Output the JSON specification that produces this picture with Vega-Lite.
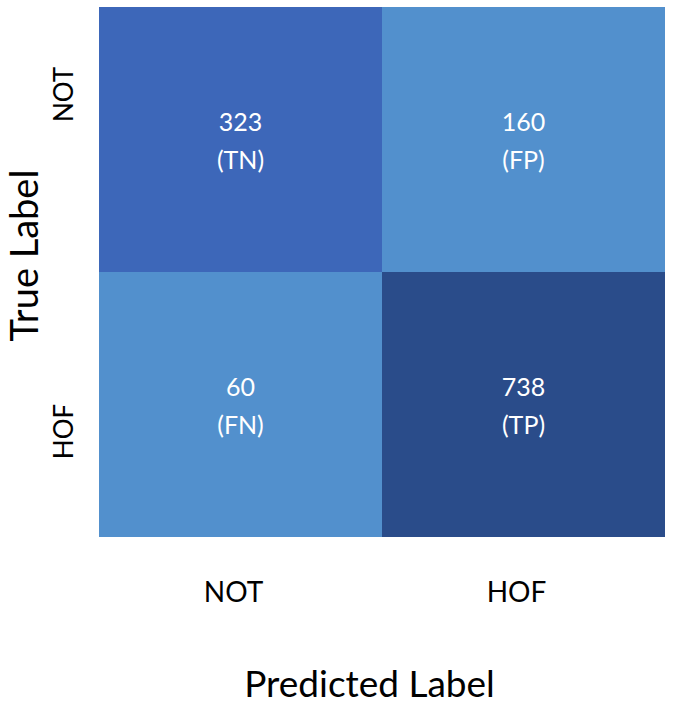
{
  "$schema": "https://vega.github.io/schema/vega-lite/v6.json",
  "width": 566,
  "height": 530,
  "autosize": "none",
  "padding": {"left": 99, "top": 7, "right": 18, "bottom": 170},
  "background": "white",
  "config": {"view": {"stroke": null}, "font": "Lato"},
  "data": {
    "values": [
      {"predicted": "NOT", "true": "NOT", "count": 323, "label": "323\n(TN)", "shade": "TN"},
      {"predicted": "HOF", "true": "NOT", "count": 160, "label": "160\n(FP)", "shade": "FP"},
      {"predicted": "NOT", "true": "HOF", "count": 60, "label": "60\n(FN)", "shade": "FN"},
      {"predicted": "HOF", "true": "HOF", "count": 738, "label": "738\n(TP)", "shade": "TP"}
    ]
  },
  "encoding": {
    "x": {
      "field": "predicted", "type": "nominal", "sort": ["NOT", "HOF"],
      "scale": {"paddingInner": 0, "paddingOuter": 0},
      "axis": {
        "title": "Predicted Label", "titleFontSize": 37, "titleFontWeight": "normal",
        "titlePadding": 60, "titleX": 270, "labelAngle": 0, "labelFontSize": 28, "labelPadding": 42,
        "labelOffset": -7,
        "labelColor": "black", "titleColor": "black",
        "domain": false, "ticks": false
      }
    },
    "y": {
      "field": "true", "type": "nominal", "sort": ["NOT", "HOF"],
      "scale": {"paddingInner": 0, "paddingOuter": 0},
      "axis": {
        "title": "True Label", "titleFontSize": 38, "titleFontWeight": "normal",
        "titlePadding": 6, "titleY": 248, "labelAngle": -90, "labelFontSize": 26, "labelPadding": 22,
        "labelAlign": "center", "labelBaseline": "bottom",
        "labelOffset": {"condition": {"test": "datum.value == 'NOT'", "value": -45}, "value": 27},
        "labelColor": "black", "titleColor": "black",
        "domain": false, "ticks": false
      }
    }
  },
  "layer": [
    {
      "mark": {"type": "rect"},
      "encoding": {
        "color": {
          "field": "shade", "type": "nominal", "legend": null,
          "scale": {"domain": ["TN", "FP", "FN", "TP"], "range": ["#3d67b9", "#5290cd", "#5290cd", "#2a4c8a"]}
        }
      }
    },
    {
      "mark": {"type": "text", "color": "white", "fontSize": 25, "lineBreak": "\n", "lineHeight": 38, "baseline": "middle", "dy": -17},
      "encoding": {"text": {"field": "label"}}
    }
  ]
}
